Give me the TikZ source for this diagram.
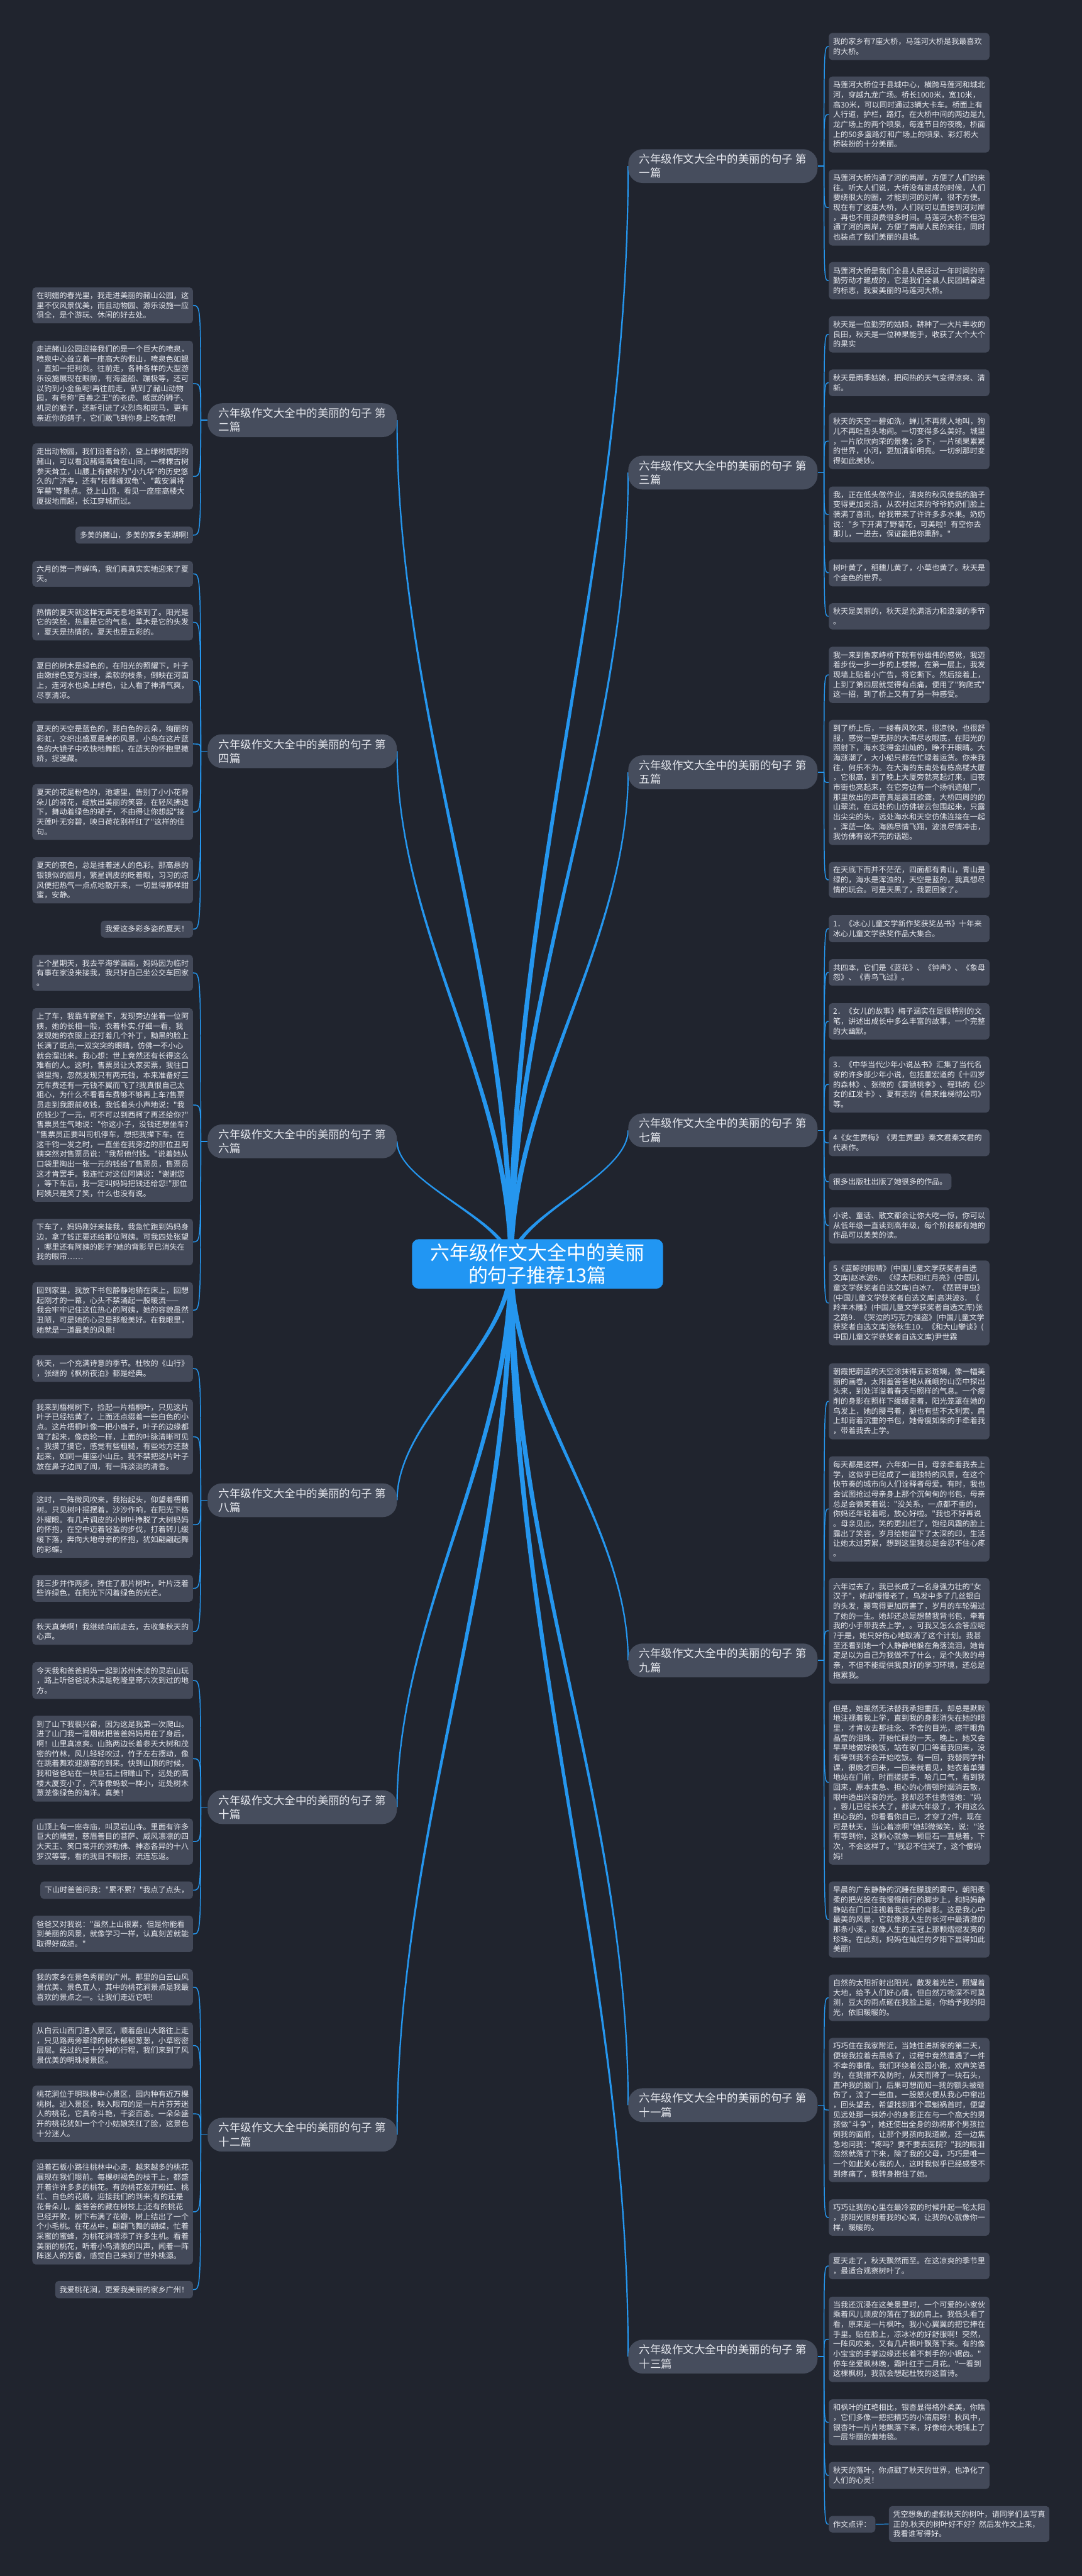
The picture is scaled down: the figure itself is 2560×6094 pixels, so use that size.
\documentclass[tikz,border=0pt]{standalone}
\usepackage{fontspec}
\newfontfamily\cjk{Noto Sans CJK SC}
\usetikzlibrary{calc}
\pgfdeclarelayer{background}
\pgfsetlayers{background,main}
\definecolor{bgc}{HTML}{20242E}
\definecolor{leafc}{HTML}{434959}
\definecolor{brc}{HTML}{464D5D}
\definecolor{txtc}{HTML}{E8EAF0}
\definecolor{rootc}{HTML}{2196F3}
\definecolor{linkc}{HTML}{2596EE}
\tikzset{
  leaf/.style={rectangle,rounded corners=4pt,fill=leafc,text=txtc,align=left,
    font=\cjk\fontsize{9pt}{11.65pt}\selectfont,inner xsep=5pt,inner ysep=1pt,text width=180pt},
  leafs/.style={rectangle,rounded corners=4pt,fill=leafc,text=txtc,align=left,
    font=\cjk\fontsize{9pt}{11.65pt}\selectfont,inner xsep=5pt,inner ysep=1pt},
  brn/.style={rectangle,rounded corners=17pt,fill=brc,text=txtc,align=left,
    font=\cjk\fontsize{13pt}{16.5pt}\selectfont,inner xsep=13pt,inner ysep=4pt,minimum height=40pt},
  rootn/.style={rectangle,rounded corners=8pt,fill=rootc,text=white,align=center,
    font=\cjk\fontsize{23pt}{27pt}\selectfont,inner xsep=22pt,inner ysep=5pt},
  lk/.style={draw=linkc,line width=1.1pt}
}
\newcommand\LR[4]{\node[leaf,anchor=west,minimum height={(#3-#2)/2}] (#1) at (1961,{(#2+#3)/2}) {#4};}
\newcommand\LRs[4]{\node[leafs,anchor=west,minimum height={(#3-#2)/2}] (#1) at (1961,{(#2+#3)/2}) {#4};}
\newcommand\LL[4]{\node[leaf,anchor=east,minimum height={(#3-#2)/2}] (#1) at (457,{(#2+#3)/2}) {#4};}
\newcommand\LLs[4]{\node[leafs,anchor=east,minimum height={(#3-#2)/2}] (#1) at (457,{(#2+#3)/2}) {#4};}
% tapered root connector, vertical at both ends
\newcommand\rootlink[1]{%
  \fill[linkc] let \p1=(#1), \p2=(rootpt), \n1={(\y1-\y2)*0.35} in
   ({\x2-3pt},\y2) .. controls ({\x2-3pt},{\y2+\n1}) and ({\x1-0.8pt},{\y1-\n1}) .. ({\x1-0.8pt},\y1)
   -- ({\x1+0.8pt},\y1) .. controls ({\x1+0.8pt},{\y1-\n1}) and ({\x2+3pt},{\y2+\n1}) .. ({\x2+3pt},\y2) -- cycle;}
\newcommand\brlinksR[2]{%
  \draw[lk] (#1.east) -- ++(15,0) coordinate (t#1);
  \foreach \l in {#2} {\draw[lk] (t#1) .. controls (t#1 |- \l.west) .. (\l.west);}}
\newcommand\brlinksL[2]{%
  \draw[lk] (#1.west) -- ++(-16,0) coordinate (t#1);
  \foreach \l in {#2} {\draw[lk] (t#1) .. controls (t#1 |- \l.east) .. (\l.east);}}
\begin{document}
\begin{tikzpicture}[x=0.5pt,y=-0.5pt]
\useasboundingbox (0,0) rectangle (2560,6094);
\begin{pgfonlayer}{background}
\fill[bgc] (0,0) rectangle (2560,6094);
\end{pgfonlayer}

% root
\node[rootn] (root) at (1272,2990) {六年级作文大全中的美丽\\的句子推荐13篇};
\coordinate (rootpt) at (1209,2990);

% branch nodes
\node[brn,anchor=east] (b1) at (1935,393) {六年级作文大全中的美丽的句子 第\\一篇};
\node[brn,anchor=east] (b3) at (1935,1118) {六年级作文大全中的美丽的句子 第\\三篇};
\node[brn,anchor=east] (b5) at (1935,1827) {六年级作文大全中的美丽的句子 第\\五篇};
\node[brn,anchor=east] (b7) at (1935,2674) {六年级作文大全中的美丽的句子 第\\七篇};
\node[brn,anchor=east] (b9) at (1935,3928) {六年级作文大全中的美丽的句子 第\\九篇};
\node[brn,anchor=east] (b11) at (1935,4980) {六年级作文大全中的美丽的句子 第\\十一篇};
\node[brn,anchor=east] (b13) at (1935,5575) {六年级作文大全中的美丽的句子 第\\十三篇};
\node[brn,anchor=west] (b2) at (491,994) {六年级作文大全中的美丽的句子 第\\二篇};
\node[brn,anchor=west] (b4) at (491,1777) {六年级作文大全中的美丽的句子 第\\四篇};
\node[brn,anchor=west] (b6) at (491,2700) {六年级作文大全中的美丽的句子 第\\六篇};
\node[brn,anchor=west] (b8) at (491,3549) {六年级作文大全中的美丽的句子 第\\八篇};
\node[brn,anchor=west] (b10) at (491,4275) {六年级作文大全中的美丽的句子 第\\十篇};
\node[brn,anchor=west] (b12) at (491,5050) {六年级作文大全中的美丽的句子 第\\十二篇};

% right leaves
\LR{r1}{78}{142}{我的家乡有7座大桥，马莲河大桥是我最喜欢\\的大桥。}
\LR{r2}{181}{361}{马莲河大桥位于县城中心，横跨马莲河和城北\\河，穿越九龙广场。桥长1000米，宽10米，\\高30米，可以同时通过3辆大卡车。桥面上有\\人行道，护栏，路灯。在大桥中间的两边是九\\龙广场上的两个喷泉，每逢节日的夜晚，桥面\\上的50多盏路灯和广场上的喷泉、彩灯将大\\桥装扮的十分美丽。}
\LR{r3}{401}{581}{马莲河大桥沟通了河的两岸，方便了人们的来\\往。听大人们说，大桥没有建成的时候，人们\\要绕很大的圈，才能到河的对岸，很不方便。\\现在有了这座大桥，人们就可以直接到河对岸\\，再也不用浪费很多时间。马莲河大桥不但沟\\通了河的两岸，方便了两岸人民的来往，同时\\也装点了我们美丽的县城。}
\LR{r4}{620}{708}{马莲河大桥是我们全县人民经过一年时间的辛\\勤劳动才建成的，它是我们全县人民团结奋进\\的标志，我爱美丽的马莲河大桥。}
\LR{r5}{748}{834}{秋天是一位勤劳的姑娘，耕种了一大片丰收的\\良田，秋天是一位种果能手，收获了大个大个\\的果实}
\LR{r6}{874}{937}{秋天是雨季姑娘，把闷热的天气变得凉爽、清\\新。}
\LR{r7}{977}{1110}{秋天的天空一碧如洗，蝉儿不再烦人地叫，狗\\儿不再吐舌头地闹。一切变得多么美好。城里\\，一片欣欣向荣的景象；乡下，一片硕果累累\\的世界，小河，更加清新明亮。一切刹那时变\\得如此美妙。}
\LR{r8}{1151}{1283}{我，正在低头做作业，清爽的秋风使我的脑子\\变得更加灵活，从农村过来的爷爷奶奶们脸上\\装满了喜讯，给我带来了许许多多水果。奶奶\\说："乡下开满了野菊花，可美啦！有空你去\\那儿，一进去，保证能把你熏醉。"}
\LR{r9}{1323}{1387}{树叶黄了，稻穗儿黄了，小草也黄了。秋天是\\个金色的世界。}
\LR{r10}{1427}{1489}{秋天是美丽的，秋天是充满活力和浪漫的季节\\。}
\LR{r11}{1530}{1663}{我一来到鲁家峙桥下就有份雄伟的感觉，我迈\\着步伐一步一步的上楼梯，在第一层上，我发\\现墙上贴着小广告，将它撕下。然后接着上，\\上到了第四层就觉得有点痛，便用了"狗爬式"\\这一招，到了桥上又有了另一种感受。}
\LR{r12}{1703}{1999}{到了桥上后，一缕春风吹来，很凉快，也很舒\\服，感觉一望无际的大海尽收眼底，在阳光的\\照射下，海水变得金灿灿的，睁不开眼睛。大\\海涨潮了，大小船只都在忙碌着运货。你来我\\往，何乐不为。在大海的东南处有栋高楼大厦\\，它很高，到了晚上大厦旁就亮起灯来，旧夜\\市街也亮起来，在它旁边有一个扬帆造船厂，\\那里放出的声音真是震耳欲聋，大桥四周的的\\山翠流，在远处的山仿佛被云包围起来，只露\\出尖尖的头，远处海水和天空仿佛连接在一起\\，浑蓝一体。海鸥尽情飞翔，波浪尽情冲击，\\我仿佛有说不完的话题。}
\LR{r13}{2039}{2124}{在天底下而并不茫茫，四面都有青山，青山是\\绿的，海水是浑浊的，天空是蓝的，我真想尽\\情的玩会。可是天黑了，我要回家了。}
\LR{r14}{2165}{2229}{1．《冰心儿童文学新作奖获奖丛书》十年来\\冰心儿童文学获奖作品大集合。}
\LR{r15}{2269}{2332}{共四本，它们是《蓝花》、《钟声》、《象母\\怨》、《青鸟飞过》。}
\LR{r16}{2373}{2459}{2．《女儿的故事》梅子涵实在是很特别的文\\笔，讲述出成长中多么丰富的故事，一个完整\\的大幽默。}
\LR{r17}{2499}{2632}{3．《中华当代少年小说丛书》汇集了当代名\\家的许多部少年小说，包括董宏遒的《十四岁\\的森林》、张微的《雾锁桃李》、程玮的《少\\女的红发卡》、夏有志的《普来维梯彻公司》\\等。}
\LR{r18}{2672}{2735}{4《女生贾梅》《男生贾里》秦文君秦文君的\\代表作。}
\LRs{r19}{2776}{2815}{很多出版社出版了她很多的作品。}
\LR{r20}{2856}{2942}{小说、童话、散文都会让你大吃一惊，你可以\\从低年级一直读到高年级，每个阶段都有她的\\作品可以美美的读。}
\LR{r21}{2982}{3183}{5《蓝鲸的眼睛》(中国儿童文学获奖者自选\\文库)赵冰波6．《绿太阳和红月亮》(中国儿\\童文学获奖者自选文库)白冰7．《琵琶甲虫》\\(中国儿童文学获奖者自选文库)高洪波8．《\\羚羊木雕》(中国儿童文学获奖者自选文库)张\\之路9．《哭泣的巧克力强盗》(中国儿童文学\\获奖者自选文库)张秋生10．《和大山攀谈》(\\中国儿童文学获奖者自选文库)尹世霖}
\LR{r22}{3225}{3405}{朝霞把蔚蓝的天空涂抹得五彩斑斓，像一幅美\\丽的画卷，太阳羞答答地从巍峨的山峦中探出\\头来，到处洋溢着春天与照样的气息。一个瘦\\削的身影在照样下缓缓走着，阳光笼罩在她的\\乌发上，她的腰弓着，腿也有些不太利索，肩\\上却背着沉重的书包，她骨瘦如柴的手牵着我\\，带着我去上学。}
\LR{r23}{3445}{3694}{每天都是这样，六年如一日，母亲牵着我去上\\学，这似乎已经成了一道独特的风景，在这个\\快节奏的城市向人们诠释者母爱。有时，我也\\会试图抢过母亲身上那个沉甸甸的书包，母亲\\总是会微笑着说："没关系，一点都不重的，\\你妈还年轻着呢，放心好啦。"我也不好再说\\。母亲见此，笑的更灿烂了，饱经风霜的脸上\\露出了笑容，岁月给她留下了太深的印，生活\\让她太过劳累，想到这里我总是会忍不住心疼\\。}
\LR{r24}{3733}{3983}{六年过去了，我已长成了一名身强力壮的"女\\汉子"，她却慢慢老了，乌发中多了几丝银白\\的头发，腰弯得更加厉害了，岁月的车轮碾过\\了她的一生。她却还总是想替我背书包，牵着\\我的小手带我去上学，。可我又怎么会答应呢\\?于是，她只好伤心地取消了这个计划。我甚\\至还看到她一个人静静地躲在角落流泪，她肯\\定是以为自己为我做不了什么，是个失败的母\\亲，不但不能提供我良好的学习环境，还总是\\拖累我。}
\LR{r25}{4022}{4411}{但是，她虽然无法替我承担重压，却总是默默\\地注视着我上学，直到我的身影消失在她的眼\\里，才肯收去那挂念、不舍的目光，擦干眼角\\晶莹的泪珠，开始忙碌的一天。晚上，她又会\\早早地做好晚饭，站在家门口等着我回来，没\\有等到我不会开始吃饭。有一回，我替同学补\\课，很晚才回来，一回来就看见，她衣着单薄\\地站在门前，时而搓搓手，哈几口气，看到我\\回来，原本焦急、担心的心情顿时烟消云散，\\眼中透出兴奋的光。我却忍不住责怪她："妈\\，蓉儿已经长大了，都读六年级了，不用这么\\担心我的，你看看你自己，才穿了2件，现在\\可是秋天，当心着凉啊"她却微微笑，说："没\\有等到你，这颗心就像一颗巨石一直悬着，下\\次，不会这样了。"我忍不住哭了，这个傻妈\\妈!}
\LR{r26}{4451}{4631}{早晨的广东静静的沉睡在朦胧的雾中，朝阳柔\\柔的把光投在我慢慢前行的脚步上，和妈妈静\\静站在门口注视着我远去的背影。这是我心中\\最美的风景，它就像我人生的长河中最清澈的\\那条小溪，就像人生的王冠上那颗熠熠发亮的\\珍珠。在此刻，妈妈在灿烂的夕阳下显得如此\\美丽!}
\LR{r27}{4671}{4781}{自然的太阳折射出阳光，散发着光芒，照耀着\\大地，给予人们好心情，但自然万物深不可莫\\测，豆大的雨点砸在我脸上是，你给予我的阳\\光，依旧暖暖的。}
\LR{r28}{4821}{5162}{巧巧住在我家附近，当她住进新家的第二天，\\便被我拉着去晨练了，过程中竟然遭遇了一件\\不幸的事情。我们环绕着公园小跑，欢声笑语\\的，在我措不及防时，从天而降了一块石头，\\直冲我的脑门，后果可想而知—我的额头被砸\\伤了，流了一些血，一股怒火便从我心中窜出\\，回头望去，希望找到那个罪魁祸首时，便望\\见远处那一抹娇小的身影正在与一个高大的男\\孩做"斗争"，她还使出全身的劲将那个男孩拉\\倒我的面前，让那个男孩向我道歉，还一边焦\\急地问我："疼吗？要不要去医院？"我的眼泪\\忽然就落了下来，除了我的父母，巧巧是唯一\\一个如此关心我的人，这时我似乎已经感受不\\到疼痛了，我转身抱住了她。}
\LR{r29}{5203}{5289}{巧巧让我的心里在最冷寂的时候升起一轮太阳\\，那阳光照射着我的心窝，让我的心就像你一\\样，暖暖的。}
\LR{r30}{5329}{5392}{夏天走了，秋天飘然而至。在这凉爽的季节里\\，最适合观察树叶了。}
\LR{r31}{5433}{5635}{当我还沉浸在这美景里时，一个可爱的小家伙\\乘着风儿顽皮的落在了我的肩上。我低头看了\\看，原来是一片枫叶。我小心翼翼的把它捧在\\手里。贴在脸上，凉冰冰的好舒服啊！突然，\\一阵风吹来，又有几片枫叶飘落下来。有的像\\小宝宝的手掌边缘还长着不刺手的小锯齿。"\\停车坐爱枫林晚，霜叶红于二月花。"一看到\\这棵枫树，我就会想起杜牧的这首诗。}
\LR{r32}{5676}{5785}{和枫叶的红艳相比，银杏显得格外柔美，你瞧\\，它们多像一把把精巧的小蒲扇呀！秋风中，\\银杏叶一片片地飘落下来，好像给大地铺上了\\一层华丽的黄地毯。}
\LR{r33}{5824}{5888}{秋天的落叶，你点戳了秋天的世界，也净化了\\人们的心灵！}
\LRs{r34}{5952}{5991}{作文点评：}
\node[leaf,anchor=west,minimum height=42.5pt] (r35) at (2103,5971) {凭空想象的虚假秋天的树叶，请同学们去写真\\正的.秋天的树叶好不好？然后发作文上来，\\我看谁写得好。};

% left leaves
\LL{l1}{680}{765}{在明媚的春光里，我走进美丽的赭山公园，这\\里不仅风景优美，而且动物园、游乐设施一应\\俱全，是个游玩、休闲的好去处。}
\LL{l2}{806}{1009}{走进赭山公园迎接我们的是一个巨大的喷泉，\\喷泉中心耸立着一座高大的假山，喷泉色如银\\，直如一把利剑。往前走，各种各样的大型游\\乐设施展现在眼前，有海盗船、蹦极等，还可\\以钓到小金鱼呢!再往前走，就到了赭山动物\\园，有号称"百兽之王"的老虎、威武的狮子、\\机灵的猴子，还新引进了火烈鸟和斑马，更有\\亲近你的鸽子，它们敢飞到你身上吃食呢!}
\LL{l3}{1049}{1205}{走出动物园，我们沿着台阶，登上绿树成阴的\\赭山，可以看见赭塔高耸在山间，一棵棵古树\\参天耸立，山腰上有被称为"小九华"的历史悠\\久的广济寺，还有"枝藤缠双龟"、"戴安澜将\\军墓"等景点。登上山顶，看见一座座高楼大\\厦拔地而起，长江穿城而过。}
\LLs{l4}{1246}{1286}{多美的赭山，多美的家乡芜湖啊!}
\LL{l5}{1327}{1388}{六月的第一声蝉鸣，我们真真实实地迎来了夏\\天。}
\LL{l6}{1429}{1515}{热情的夏天就这样无声无息地来到了。阳光是\\它的笑脸，热量是它的气息，草木是它的头发\\，夏天是热情的，夏天也是五彩的。}
\LL{l7}{1556}{1664}{夏日的树木是绿色的，在阳光的照耀下，叶子\\由嫩绿色变为深绿，柔软的枝条，倒映在河面\\上，连河水也染上绿色，让人看了神清气爽，\\尽享清凉。}
\LL{l8}{1705}{1815}{夏天的天空是蓝色的，那白色的云朵，绚丽的\\彩虹，交织出盛夏最美的风景。小鸟在这片蓝\\色的大镜子中欢快地舞蹈，在蓝天的怀抱里撒\\娇，捉迷藏。}
\LL{l9}{1855}{1987}{夏天的花是粉色的，池塘里，告别了小小花骨\\朵儿的荷花，绽放出美丽的笑容，在轻风拂送\\下，舞动着绿色的裙子，不由得让你想起"接\\天莲叶无穷碧，映日荷花别样红了"这样的佳\\句。}
\LL{l10}{2028}{2137}{夏天的夜色，总是挂着迷人的色彩。那高悬的\\银镜似的圆月，繁星调皮的眨着眼，习习的凉\\风便把热气一点点地散开来，一切显得那样甜\\蜜，安静。}
\LLs{l11}{2178}{2218}{我爱这多彩多姿的夏天！}
\LL{l12}{2259}{2344}{上个星期天，我去平海学画画，妈妈因为临时\\有事在家没来接我，我只好自己坐公交车回家\\。}
\LL{l13}{2385}{2843}{上了车，我靠车窗坐下，发现旁边坐着一位阿\\姨，她的长相一般，衣着朴实.仔细一看，我\\发现她的衣服上还打着几个补丁，黝黑的脸上\\长满了斑点;一双突突的眼睛，仿佛一不小心\\就会溜出来。我心想：世上竟然还有长得这么\\难看的人。这时，售票员让大家买票，我往口\\袋里掏，忽然发现只有两元钱，本来准备好三\\元车费还有一元钱不翼而飞了?我真恨自己太\\粗心，为什么不看看车费够不够再上车?售票\\员走到我跟前收钱，我低着头小声地说："我\\的钱少了一元，可不可以到西柯了再还给你?"\\售票员生气地说："你这小子，没钱还想坐车?\\"售票员正要叫司机停车，想把我撵下车。在\\这千钧一发之时，一直坐在我旁边的那位丑阿\\姨突然对售票员说："我帮他付钱。"说着她从\\口袋里掏出一张一元的钱给了售票员，售票员\\这才肯罢手。我连忙对这位阿姨说："谢谢您\\，等下车后，我一定叫妈妈把钱还给您!"那位\\阿姨只是笑了笑，什么也没有说。}
\LL{l14}{2883}{2993}{下车了，妈妈刚好来接我，我急忙跑到妈妈身\\边，拿了钱正要还给那位阿姨。可我四处张望\\，哪里还有阿姨的影子?她的背影早已消失在\\我的眼帘……}
\LL{l15}{3033}{3166}{回到家里，我放下书包静静地躺在床上，回想\\起刚才的一幕，心头不禁涌起一股暖流——\\我会牢牢记住这位热心的阿姨，她的容貌虽然\\丑陋，可是她的心灵是那般美好。在我眼里，\\她就是一道最美的风景!}
\LL{l16}{3206}{3269}{秋天，一个充满诗意的季节。杜牧的《山行》\\，张继的《枫桥夜泊》都是经典。}
\LL{l17}{3310}{3488}{我来到梧桐树下，捡起一片梧桐叶，只见这片\\叶子已经枯黄了，上面还点缀着一些白色的小\\点。这片梧桐叶像一把小扇子，叶子的边缘都\\弯了起来，像齿轮一样，上面的叶脉清晰可见\\。我摸了摸它，感觉有些粗糙，有些地方还鼓\\起来，如同一座座小山丘。我不禁把这片叶子\\放在鼻子边闻了闻，有一阵淡淡的清香。}
\LL{l18}{3529}{3685}{这时，一阵微风吹来，我抬起头，仰望着梧桐\\树。只见树叶摇摆着，沙沙作响，在阳光下格\\外耀眼。有几片调皮的小树叶挣脱了大树妈妈\\的怀抱，在空中迈着轻盈的步伐，打着转儿缓\\缓下落，奔向大地母亲的怀抱，犹如翩翩起舞\\的彩蝶。}
\LL{l19}{3726}{3789}{我三步并作两步，捧住了那片树叶，叶片泛着\\些许绿色，在阳光下闪着绿色的光芒。}
\LL{l20}{3829}{3891}{秋天真美啊！我继续向前走去，去收集秋天的\\心声。}
\LL{l21}{3932}{4019}{今天我和爸爸妈妈一起到苏州木渎的灵岩山玩\\，路上听爸爸说木渎是乾隆皇帝六次到过的地\\方。}
\LL{l22}{4059}{4262}{到了山下我很兴奋，因为这是我第一次爬山。\\进了山门我一溜烟就把爸爸妈妈甩在了身后，\\啊！山里真凉爽。山路两边长着参天大树和茂\\密的竹林，风儿轻轻吹过，竹子左右摆动，像\\在跳着舞欢迎游客的到来。快到山顶的时候，\\我和爸爸站在一块巨石上俯瞰山下，远处的高\\楼大厦变小了，汽车像蚂蚁一样小，近处树木\\葱茏像绿色的海洋。真美！}
\LL{l23}{4302}{4411}{山顶上有一座寺庙，叫灵岩山寺。里面有许多\\巨大的雕塑，慈眉善目的菩萨、威风凛凛的四\\大天王、笑口常开的弥勒佛、神态各异的十八\\罗汉等等，看的我目不暇接，流连忘返。}
\LLs{l24}{4451}{4492}{下山时爸爸问我："累不累？"我点了点头，}
\LL{l25}{4532}{4618}{爸爸又对我说："虽然上山很累，但是你能看\\到美丽的风景，就像学习一样，认真刻苦就能\\取得好成绩。"}
\LL{l26}{4658}{4744}{我的家乡在景色秀丽的广州。那里的白云山风\\景优美、景色宜人，其中的桃花涧景点是我最\\喜欢的景点之一。让我们走近它吧!}
\LL{l27}{4784}{4894}{从白云山西门进入景区，顺着盘山大路往上走\\，只见路两旁翠绿的树木郁郁葱葱，小草密密\\层层。经过约三十分钟的行程，我们来到了风\\景优美的明珠楼景区。}
\LL{l28}{4934}{5067}{桃花涧位于明珠楼中心景区，园内种有近万棵\\桃树。进入景区，映入眼帘的是一片片芬芳迷\\人的桃花，它真奇斗艳，千姿百态。一朵朵盛\\开的桃花犹如一个个小姑娘笑红了脸，这景色\\十分迷人。}
\LL{l29}{5108}{5357}{沿着石板小路往桃林中心走，越来越多的桃花\\展现在我们眼前。每棵树褐色的枝干上，都盛\\开着许许多多的桃花。有的桃花张开粉红、桃\\红、白色的花瓣，迎接我们的到来;有的还是\\花骨朵儿，羞答答的藏在树枝上;还有的桃花\\已经开败，树下布满了花瓣，树上结出了一个\\个小毛桃。在花丛中，翩翩飞舞的蝴蝶，忙着\\采蜜的蜜蜂，为桃花涧增添了许多生机。看着\\美丽的桃花，听着小鸟清脆的叫声，闻着一阵\\阵迷人的芳香，感觉自己来到了世外桃源。}
\LLs{l30}{5396}{5437}{我爱桃花涧，更爱我美丽的家乡广州！}

% links
\begin{pgfonlayer}{background}
\foreach \b in {b1,b3,b5,b7,b9,b11,b13} {\rootlink{\b.west}}
\foreach \b in {b2,b4,b6,b8,b10,b12} {\rootlink{\b.east}}
\brlinksR{b1}{r1,r2,r3,r4}
\brlinksR{b3}{r5,r6,r7,r8,r9,r10}
\brlinksR{b5}{r11,r12,r13}
\brlinksR{b7}{r14,r15,r16,r17,r18,r19,r20,r21}
\brlinksR{b9}{r22,r23,r24,r25,r26}
\brlinksR{b11}{r27,r28,r29}
\brlinksR{b13}{r30,r31,r32,r33,r34}
\draw[lk] (r34.east) -- (r35.west);
\brlinksL{b2}{l1,l2,l3,l4}
\brlinksL{b4}{l5,l6,l7,l8,l9,l10,l11}
\brlinksL{b6}{l12,l13,l14,l15}
\brlinksL{b8}{l16,l17,l18,l19,l20}
\brlinksL{b10}{l21,l22,l23,l24,l25}
\brlinksL{b12}{l26,l27,l28,l29,l30}
\end{pgfonlayer}
\end{tikzpicture}
\end{document}
